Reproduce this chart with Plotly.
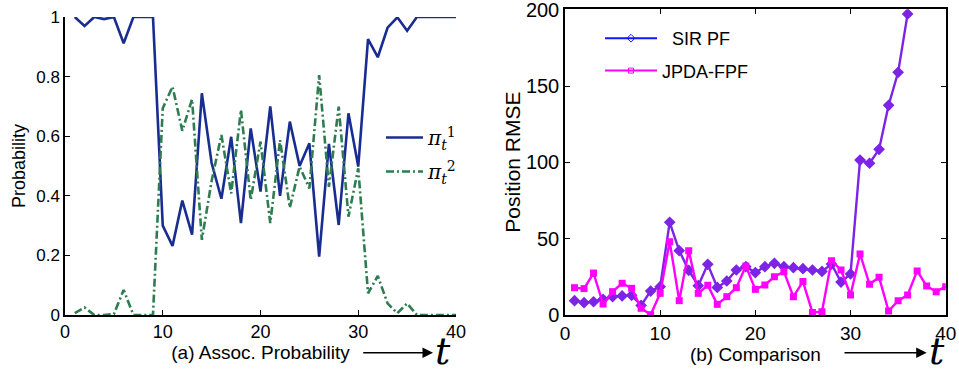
import plotly.graph_objects as go

# ---------------- data ----------------
t_left = list(range(1, 41))
pi1 = [1.0, 0.97, 1.0, 0.993, 1.0, 0.912, 1.0, 1.0, 1.0, 0.30,
       0.232, 0.384, 0.27, 0.744, 0.51, 0.39, 0.598, 0.308, 0.626, 0.414,
       0.70, 0.40, 0.649, 0.50, 0.576, 0.196, 0.574, 0.302, 0.677, 0.498,
       0.926, 0.865, 0.964, 0.999, 0.954, 1.0, 1.0, 1.0, 1.0, 1.0]
pi2 = [0.006, 0.025, 0.0, 0.0, 0.003, 0.084, 0.0, 0.0, 0.0, 0.694,
       0.766, 0.618, 0.724, 0.252, 0.45, 0.604, 0.408, 0.688, 0.386, 0.582,
       0.308, 0.587, 0.36, 0.498, 0.425, 0.805, 0.43, 0.699, 0.33, 0.492,
       0.073, 0.131, 0.039, 0.006, 0.039, 0.0, 0.0, 0.0, 0.0, 0.0]

t_sir = list(range(1, 37))
sir_pf = [9.4, 8.1, 8.7, 10.3, 12.0, 12.5, 12.9, 6.3, 15.7, 18.6,
          60.8, 42.2, 29.3, 19.2, 33.2, 18.1, 22.3, 29.5, 31.7, 27.8,
          31.7, 33.9, 31.7, 31.0, 30.4, 29.5, 28.6, 33.4, 21.6, 26.9,
          101.6, 99.5, 108.6, 137.5, 159.1, 197.4]
t_jpda = list(range(1, 41))
jpda_fpf = [17.9, 17.3, 27.5, 7.2, 15.3, 20.8, 17.5, 4.4, 0.2, 14.2,
            48.1, 9.4, 42.2, 14.2, 19.5, 7.0, 12.0, 17.9, 32.1, 16.8,
            19.7, 25.1, 28.4, 12.0, 21.9, 1.7, 2.2, 35.6, 29.5, 13.1,
            40.0, 20.1, 24.7, 2.6, 9.4, 13.1, 28.9, 19.0, 15.3, 18.6]

x_ticks = [0, 10, 20, 30, 40]
left_y_ticks = [0, 0.2, 0.4, 0.6, 0.8, 1.0]
left_y_labels = ["0", "0.2", "0.4", "0.6", "0.8", "1"]
right_y_ticks = [0, 50, 100, 150, 200]

BLUE = "rgb(25,45,145)"
GREEN = "rgb(45,125,80)"
PURPLE = "rgb(125,35,230)"
MAGENTA = "rgb(255,0,255)"
SANS = "Liberation Sans, Arial, sans-serif"
SERIF = "DejaVu Serif, Liberation Serif, serif"

fig = go.Figure()

fig.add_trace(go.Scatter(x=t_left, y=pi1, mode="lines", xaxis="x", yaxis="y",
                         line=dict(color=BLUE, width=2.6),
                         name="<i>π</i><sub><i>t</i></sub><sup>1</sup>",
                         legend="legend", legendgroup="a"))
fig.add_trace(go.Scatter(x=t_left, y=pi2, mode="lines", xaxis="x", yaxis="y",
                         line=dict(color=GREEN, width=2.6, dash="8px,3px,2px,3px"),
                         name="<i>π</i><sub><i>t</i></sub><sup>2</sup>",
                         legend="legend", legendgroup="b"))

fig.add_trace(go.Scatter(x=t_sir, y=sir_pf, mode="lines+markers", xaxis="x2", yaxis="y2",
                         line=dict(color=PURPLE, width=2.4),
                         marker=dict(symbol="diamond", size=9, color=PURPLE),
                         showlegend=False))
fig.add_trace(go.Scatter(x=t_jpda, y=jpda_fpf, mode="lines+markers", xaxis="x2", yaxis="y2",
                         line=dict(color=MAGENTA, width=2.4),
                         marker=dict(symbol="square", size=7, color=MAGENTA),
                         showlegend=False))
# legend entries for the right panel (legend colours differ from plotted lines)
fig.add_trace(go.Scatter(x=[None], y=[None], mode="lines+markers", xaxis="x2", yaxis="y2",
                         line=dict(color="rgb(20,20,255)", width=2),
                         marker=dict(symbol="diamond-open", size=6, color="rgb(20,20,255)"),
                         name="&nbsp;&nbsp;SIR PF", legend="legend2", legendgroup="c"))
fig.add_trace(go.Scatter(x=[None], y=[None], mode="lines+markers", xaxis="x2", yaxis="y2",
                         line=dict(color=MAGENTA, width=2),
                         marker=dict(symbol="square-open", size=5, color=MAGENTA),
                         name="JPDA-FPF", legend="legend2", legendgroup="d"))

axis_common = dict(showline=True, linecolor="black", linewidth=1.5, ticks="inside",
                   ticklen=5, tickcolor="black", showgrid=False, zeroline=False,
                   automargin=False, ticklabeloverflow="allow")

W, H = 959, 373
fig.update_layout(
    width=W, height=H, margin=dict(l=0, r=0, t=0, b=0),
    paper_bgcolor="white", plot_bgcolor="white",
    font=dict(family=SANS, color="black"),
    xaxis=dict(domain=[65 / W, 456 / W], range=[0, 40], tickvals=x_ticks,
               tickfont=dict(size=18), anchor="y",
               title=dict(text="(a) Assoc. Probability", font=dict(size=19), standoff=3),
               **axis_common),
    yaxis=dict(domain=[(H - 315) / H, (H - 17) / H], range=[0, 1], tickvals=left_y_ticks,
               ticktext=left_y_labels, tickfont=dict(size=17), anchor="x",
               title=dict(text="Probability", font=dict(size=18), standoff=6),
               **axis_common),
    xaxis2=dict(domain=[565 / W, 945.7 / W], range=[0, 40], tickvals=x_ticks,
                tickfont=dict(size=19), anchor="y2", mirror="ticks",
                title=dict(text="(b) Comparison", font=dict(size=19), standoff=3),
                **axis_common),
    yaxis2=dict(domain=[(H - 315) / H, (H - 9.2) / H], range=[0, 200.5], tickvals=right_y_ticks,
                tickfont=dict(size=20), anchor="x2", mirror="ticks",
                title=dict(text="Position RMSE", font=dict(size=21), standoff=0),
                **axis_common),
    legend=dict(x=381 / W, y=(H - 118) / H, xanchor="left", yanchor="top",
                bgcolor="rgba(0,0,0,0)", font=dict(size=20, family=SERIF),
                tracegroupgap=5, itemwidth=37),
    legend2=dict(x=600 / W, y=(H - 20) / H, xanchor="left", yanchor="top",
                 bgcolor="rgba(0,0,0,0)", font=dict(size=18, family=SANS),
                 tracegroupgap=6, itemwidth=52),
)

# arrows and big italic t on the x-axis titles
for tail, head, tx in [(361.7, 433, 443), (843, 926.7, 937)]:
    fig.add_annotation(x=head / W, y=(H - 352.7) / H, xref="paper", yref="paper",
                       ax=-(head - tail), ay=0, text="", showarrow=True,
                       arrowhead=2, arrowsize=1.4, arrowwidth=1.5, arrowcolor="black")
    fig.add_annotation(x=tx / W, y=0, xref="paper", yref="paper",
                       xanchor="center", yanchor="bottom", yshift=-2,
                       text="<i>t</i>", showarrow=False,
                       font=dict(size=38, family=SERIF, color="black"))

fig.write_html("out.html")
